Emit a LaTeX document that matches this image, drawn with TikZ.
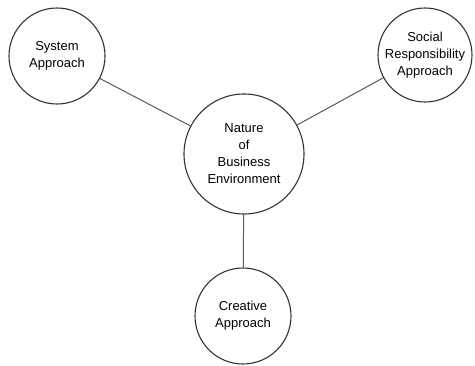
\documentclass[tikz,border=0pt]{standalone}
\usepackage{fontspec}
\setmainfont{Liberation Sans}
\tikzstyle{approach}=[
    draw=black!80,
    circle,
    line width=1.1pt,
    inner sep=0pt,
    minimum size=96pt,
    align=center,
    font=\fontsize{13}{17}\selectfont,
  ]
\tikzstyle{link}=[
    draw=black!65,
    line width=1pt,
  ]

\begin{document}
\begin{tikzpicture}[x=1pt, y=-1pt]
      \useasboundingbox (0,0) rectangle (475,365);
      \node[approach] (system) at (57, 56) {System\\Approach};
      \node[approach, minimum size=94pt] (social) at (425, 55) {Social\\Responsibility\\Approach};
      \node[approach, minimum size=120pt] (nature) at (244, 154) {Nature\\of\\Business\\Environment};
      \node[approach] (creative) at (243, 316) {Creative\\Approach};
      \draw[link] (system) -- (nature);
      \draw[link] (social) -- (nature);
      \draw[link] (nature) -- (creative);
    \end{tikzpicture}
\end{document}
